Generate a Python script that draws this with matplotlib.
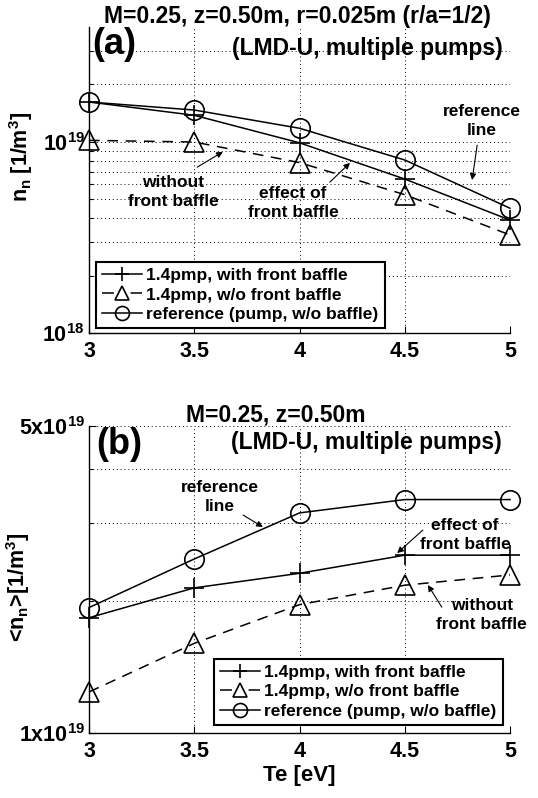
import numpy as np
import matplotlib
matplotlib.use("Agg")
import matplotlib.pyplot as plt
from matplotlib.ticker import FixedLocator, NullFormatter

plt.rcParams['font.family'] = ['Liberation Sans', 'DejaVu Sans']
plt.rcParams['font.weight'] = 'bold'
plt.rcParams['axes.labelweight'] = 'bold'
plt.rcParams['mathtext.fontset'] = 'custom'
plt.rcParams['mathtext.rm'] = 'Liberation Sans:bold'
plt.rcParams['mathtext.it'] = 'Liberation Sans:bold'
plt.rcParams['mathtext.bf'] = 'Liberation Sans:bold'
plt.rcParams['mathtext.sf'] = 'Liberation Sans:bold'

# data
te = [3.0, 3.5, 4.0, 4.5, 5.0]

# (a) local neutral density at r/a=1/2
nn_baffle = [1.62e19, 1.38e19, 0.99e19, 6.4e18, 3.9e18]
nn_nobaffle = [1.02e19, 1.00e19, 7.8e18, 5.3e18, 3.26e18]
nn_ref = [1.62e19, 1.47e19, 1.18e19, 8.05e18, 4.5e18]

# (b) averaged neutral density
avg_baffle = [1.83e19, 2.14e19, 2.31e19, 2.54e19, 2.54e19]
avg_nobaffle = [1.24e19, 1.60e19, 1.96e19, 2.17e19, 2.29e19]
avg_ref = [1.93e19, 2.49e19, 3.17e19, 3.40e19, 3.40e19]

labels = ['1.4pmp, with front baffle', '1.4pmp, w/o front baffle',
          'reference (pump, w/o baffle)']
xticks = [3, 3.5, 4, 4.5, 5]
xticklabels = ['3', '3.5', '4', '4.5', '5']

W, H = 538, 798
fig = plt.figure(figsize=(W / 100, H / 100), dpi=100)


def px_axes(x0, x1, ytop, ybot):
    return fig.add_axes([x0 / W, 1 - ybot / H, (x1 - x0) / W, (ybot - ytop) / H])


ax1 = px_axes(89, 510, 27, 333)
ax2 = px_axes(89, 510, 426, 733)

lw = 1.1
ms = 14
dash = (0, (7, 5))


def draw(ax, a, b, c):
    ax.plot(te, a, '-', color='k', lw=lw, marker='+', ms=ms, mew=1.2,
            label=labels[0], zorder=3, clip_on=False)
    ax.plot(te, b, linestyle=dash, color='k', lw=lw, marker='^', ms=ms,
            mew=1.2, mfc='none', label=labels[1], zorder=3, clip_on=False)
    ax.plot(te, c, '-', color='k', lw=lw, marker='o', ms=ms, mew=1.2,
            mfc='none', label=labels[2], zorder=3, clip_on=False)


draw(ax1, nn_baffle, nn_nobaffle, nn_ref)
draw(ax2, avg_baffle, avg_nobaffle, avg_ref)

for ax in (ax1, ax2):
    ax.set_yscale('log')
    ax.set_xlim(3, 5)
    ax.set_xticks(xticks)
    ax.set_xticklabels(xticklabels)
    ax.spines['top'].set_visible(False)
    ax.spines['right'].set_visible(False)
    ax.spines['left'].set_linewidth(1.0)
    ax.spines['bottom'].set_linewidth(1.0)
    ax.tick_params(which='both', direction='in', top=False, right=False,
                   labelsize=15.5, width=0.8)
    ax.tick_params(axis='x', which='major', length=5, pad=6)
    ax.tick_params(axis='y', which='major', length=5, pad=3)
    ax.tick_params(axis='y', which='minor', length=3)
    ax.tick_params(axis='x', which='minor', bottom=False)
    ax.grid(True, which='major', axis='both', color='k', lw=0.7,
            linestyle=(0, (1, 3)))
    ax.grid(True, which='minor', axis='y', color='k', lw=0.7,
            linestyle=(0, (1, 3)))
    ax.set_axisbelow(True)

# panel (a) axes
ax1.set_ylim(1e18, 4e19)
ax1.yaxis.set_major_locator(FixedLocator([1e18, 1e19]))
ax1.set_yticklabels([r'$10^{18}$', r'$10^{19}$'])
ax1.yaxis.set_minor_locator(FixedLocator(
    [k * 1e18 for k in range(2, 10)] + [2e19, 3e19]))
ax1.yaxis.set_minor_formatter(NullFormatter())
ax1.set_ylabel(r'$n_n$ [1/m$^3$]', fontsize=15.5, fontweight='bold')
ax1.yaxis.set_label_coords(-0.128, 0.575)

# panel (b) axes
ax2.set_ylim(1e19, 5e19)
ax2.yaxis.set_major_locator(FixedLocator([1e19, 5e19]))
ax2.set_yticklabels([r'$\mathrm{1x10^{19}}$', r'$\mathrm{5x10^{19}}$'])
ax2.yaxis.set_minor_locator(FixedLocator([2e19, 3e19, 4e19]))
ax2.yaxis.set_minor_formatter(NullFormatter())
ax2.set_ylabel(r'<$n_n$>[1/m$^3$]', fontsize=15.5, fontweight='bold')
ax2.yaxis.set_label_coords(-0.135, 0.475)
ax2.set_xlabel('Te [eV]', fontsize=16, fontweight='bold', labelpad=2)

# legends
for ax, anchor in ((ax1, (0.0166, 0.016)), (ax2, (0.297, 0.026))):
    leg = ax.legend(loc='lower left', bbox_to_anchor=anchor, borderaxespad=0,
                    fontsize=12.5, handlelength=2.3, handletextpad=0.25,
                    labelspacing=0.25, borderpad=0.35, fancybox=False,
                    framealpha=1, edgecolor='k', markerscale=0.72)
    leg.get_frame().set_linewidth(1.5)
    leg.set_zorder(5)
    # dash at each end of the handle, gap under the marker
    leg.get_lines()[1].set_linestyle((0, (7.8, 10.9)))

# titles and panel labels
tfs = 16.5
fig.text(297 / W, 1 - 17 / H, 'M=0.25, z=0.50m, r=0.025m (r/a=1/2)',
         ha='center', va='center', fontsize=tfs)
fig.text(503 / W, 1 - 49 / H, '(LMD-U, multiple pumps)', ha='right',
         va='center', fontsize=tfs)
fig.text(92 / W, 1 - 45 / H, '(a)', ha='left', va='center', fontsize=26)

fig.text(276 / W, 1 - 415 / H, 'M=0.25, z=0.50m', ha='center', va='center',
         fontsize=tfs)
fig.text(502 / W, 1 - 442 / H, '(LMD-U, multiple pumps)', ha='right',
         va='center', fontsize=tfs)
fig.text(96 / W, 1 - 444 / H, '(b)', ha='left', va='center', fontsize=26)

# annotations
afs = 12.5
arrow = dict(arrowstyle='-|>', color='k', lw=0.8, mutation_scale=9,
             shrinkA=0, shrinkB=0)


def note(ax, text, txy, tail, head):
    ax.text(txy[0], txy[1], text, transform=ax.transAxes, ha='center',
            va='center', fontsize=afs, linespacing=1.3, zorder=4)
    ax.annotate('', xy=head, xycoords='axes fraction', xytext=tail,
                textcoords='axes fraction', arrowprops=arrow)


note(ax1, 'reference\nline', (0.933, 0.693), (0.922, 0.614), (0.910, 0.50))
note(ax1, 'without\nfront baffle', (0.20, 0.461), (0.257, 0.542), (0.318, 0.592))
note(ax1, 'effect of\nfront baffle', (0.485, 0.425), (0.572, 0.493), (0.620, 0.556))

note(ax2, 'reference\nline', (0.311, 0.769), (0.366, 0.710), (0.413, 0.671))
note(ax2, 'effect of\nfront baffle', (0.893, 0.645), (0.793, 0.661), (0.732, 0.586))
note(ax2, 'without\nfront baffle', (0.933, 0.384), (0.838, 0.410), (0.805, 0.482))

fig.savefig('out.png', dpi=100)
